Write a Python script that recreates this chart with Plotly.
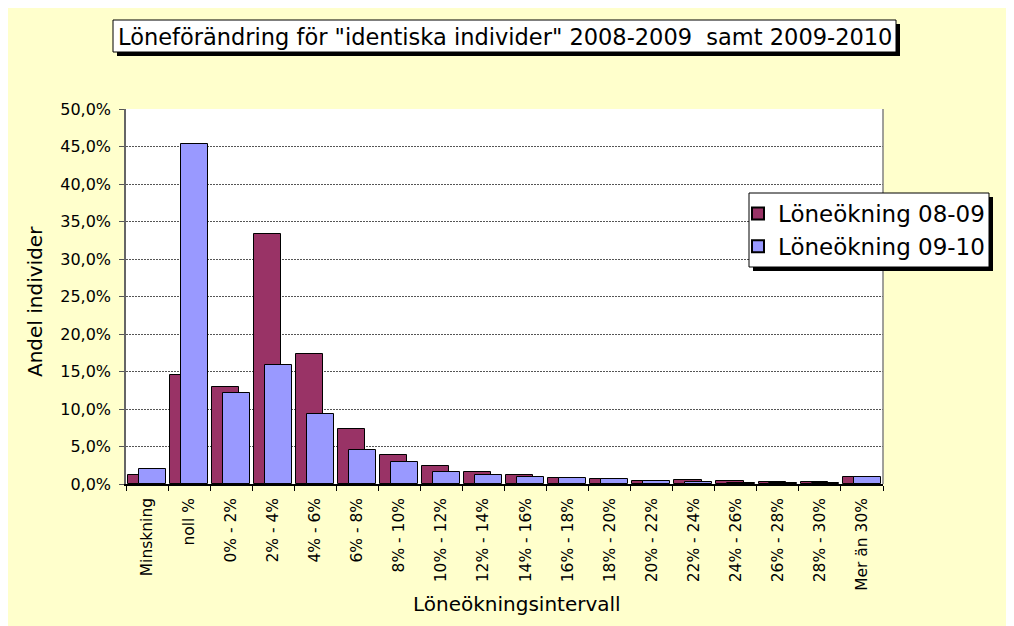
import plotly.graph_objects as go

categories = ["Minskning", "noll %", "0% - 2%", "2% - 4%", "4% - 6%", "6% - 8%",
              "8% - 10%", "10% - 12%", "12% - 14%", "14% - 16%", "16% - 18%",
              "18% - 20%", "20% - 22%", "22% - 24%", "24% - 26%", "26% - 28%",
              "28% - 30%", "Mer än 30%"]
loneokning_08_09 = [0.012, 0.146, 0.130, 0.334, 0.173, 0.074, 0.039, 0.024, 0.016,
                    0.0125, 0.008, 0.0065, 0.0035, 0.0055, 0.0035, 0.0025, 0.0025, 0.0095]
loneokning_09_10 = [0.020, 0.453, 0.121, 0.159, 0.094, 0.046, 0.029, 0.016, 0.0125,
                    0.009, 0.008, 0.007, 0.004, 0.0025, 0.002, 0.002, 0.002, 0.0095]
y_tickvals = [0.0, 0.05, 0.10, 0.15, 0.20, 0.25, 0.30, 0.35, 0.40, 0.45, 0.50]
y_ticktext = ["0,0%", "5,0%", "10,0%", "15,0%", "20,0%", "25,0%", "30,0%",
              "35,0%", "40,0%", "45,0%", "50,0%"]

title_text = 'Löneförändring för "identiska individer" 2008-2009\u00a0 samt 2009-2010'

# page offset (body margin) and plot area in screenshot pixels
OFF = 8
L, R, T, B = 126, 883, 109, 484
W, H = 1006, 618
pw, ph = R - L, B - T


def px(x):
    return (x - L) / pw


def py(y):
    return (B - y) / ph


fig = go.Figure()
fig.add_trace(go.Bar(
    x=categories, y=loneokning_08_09, name="Löneökning 08-09",
    marker=dict(color="#993366", line=dict(color="black", width=1)),
    width=0.645, offset=-0.46,
))
fig.add_trace(go.Bar(
    x=categories, y=loneokning_09_10, name="Löneökning 09-10",
    marker=dict(color="#9999FF", line=dict(color="black", width=1)),
    width=0.645, offset=-0.2,
))

shapes = [
    # right border of plot area
    dict(type="line", xref="paper", yref="paper", x0=1, x1=1, y0=0, y1=1,
         line=dict(color="#808080", width=1.5), layer="above"),
    # title box shadow + box
    dict(type="rect", xref="paper", yref="paper", x0=px(117), x1=px(900), y0=py(56), y1=py(24),
         fillcolor="black", line=dict(width=0), layer="above"),
    dict(type="rect", xref="paper", yref="paper", x0=px(113), x1=px(896), y0=py(52), y1=py(20),
         fillcolor="white", line=dict(color="black", width=1), layer="above"),
    # legend box shadow + box
    dict(type="rect", xref="paper", yref="paper", x0=px(753), x1=px(993), y0=py(271), y1=py(197),
         fillcolor="black", line=dict(width=0), layer="above"),
    dict(type="rect", xref="paper", yref="paper", x0=px(749), x1=px(989), y0=py(267), y1=py(193),
         fillcolor="white", line=dict(color="black", width=1), layer="above"),
]

annotations = [
    dict(text=title_text, xref="paper", yref="paper", x=px(504.5), y=py(37),
         xanchor="center", yanchor="middle", showarrow=False,
         font=dict(family="DejaVu Sans", size=22.5, color="black")),
    dict(text="Andel individer", xref="paper", yref="paper", x=px(35), y=py(302),
         xanchor="center", yanchor="middle", showarrow=False, textangle=-90,
         font=dict(family="DejaVu Sans", size=20, color="black")),
    dict(text="Löneökningsintervall", xref="paper", yref="paper", x=px(517), y=py(604),
         xanchor="center", yanchor="middle", showarrow=False,
         font=dict(family="DejaVu Sans", size=20, color="black")),
]

fig.update_layout(
    width=W, height=H,
    margin=dict(l=L - OFF, r=W - (R - OFF), t=T - OFF, b=H - (B - OFF), pad=0),
    paper_bgcolor="#FFFFCC", plot_bgcolor="white",
    barmode="overlay", bargap=0,
    showlegend=True,
    legend=dict(x=px(738), y=py(230), xanchor="left", yanchor="middle",
                bgcolor="rgba(0,0,0,0)", borderwidth=0,
                font=dict(family="DejaVu Sans", size=23, color="black"),
                tracegroupgap=0, itemsizing="constant"),
    shapes=shapes, annotations=annotations,
    font=dict(family="DejaVu Sans", color="black"),
)
fig.update_xaxes(
    type="category", tickangle=-90, ticks="outside", tickson="boundaries",
    ticklen=5, tickcolor="black", showline=True, linecolor="black", linewidth=1.5,
    showgrid=False, tickfont=dict(family="DejaVu Sans", size=15.5, color="black"),
    ticklabelstandoff=6,
    range=[-0.5, len(categories) - 0.5],
)
fig.update_yaxes(
    range=[0, 0.5], tickvals=y_tickvals, ticktext=y_ticktext,
    ticks="outside", ticklen=5, tickcolor="#555555",
    showline=True, linecolor="#666666", linewidth=1.5,
    showgrid=True, gridcolor="#555555", griddash="2px,1px", gridwidth=1,
    zeroline=False, tickfont=dict(family="DejaVu Sans", size=16, color="black"),
    ticklabelstandoff=5,
)

fig.write_html("out.html")
